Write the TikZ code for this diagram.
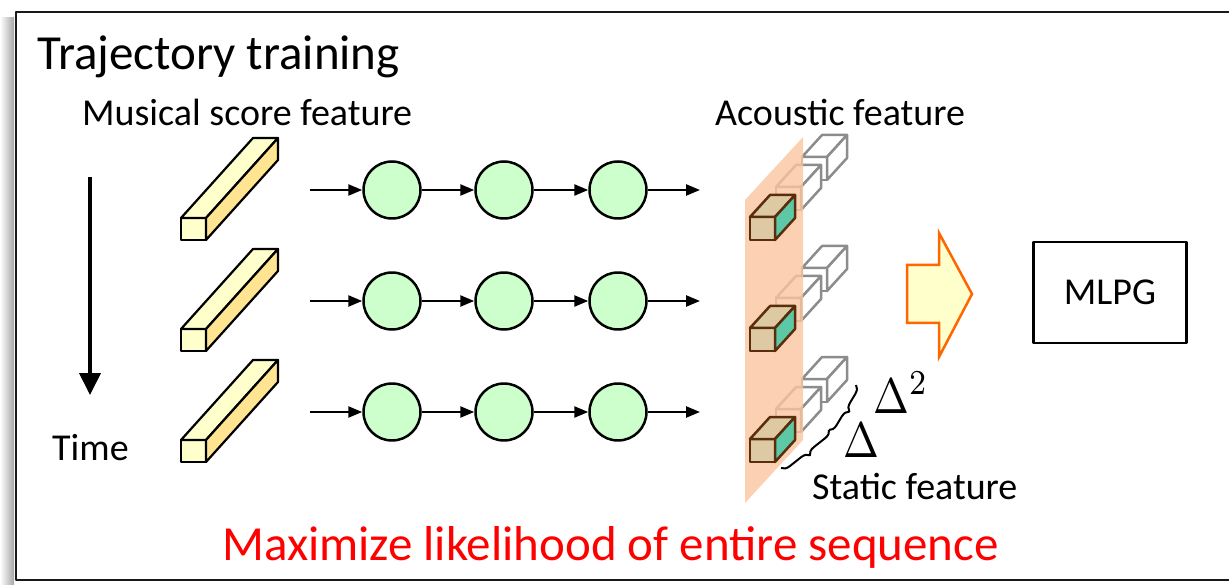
\documentclass[tikz,border=0pt]{standalone}
\usepackage{fontspec}
\setmainfont{Carlito}
\usetikzlibrary{arrows.meta,calc,decorations.pathreplacing}

\definecolor{barfront}{HTML}{FFFFCC}
\definecolor{barside}{HTML}{FFE591}
\definecolor{nodegreen}{HTML}{CCFFCC}
\definecolor{planeorange}{HTML}{FBC5A0}
\definecolor{cubetan}{HTML}{DDC9A3}
\definecolor{cubeteal}{HTML}{5CC8A6}
\definecolor{cubeedge}{HTML}{5A2D0C}
\definecolor{cubegray}{HTML}{8C8C8C}
\definecolor{arroworange}{HTML}{FF6600}

% one feature box: origin, edge, front, top, side
\newcommand{\featbox}[5]{%
  \begin{scope}[shift={#1}]
    \filldraw[draw=#2,fill=#3] (0,0) rectangle (25,23);
    \filldraw[draw=#2,fill=#4] (0,0) -- (20,-22) -- (45,-22) -- (25,0) -- cycle;
    \filldraw[draw=#2,fill=#5] (25,0) -- (45,-22) -- (45,1) -- (25,23) -- cycle;
  \end{scope}}

\begin{document}
\begin{tikzpicture}[x=1pt,y=-1pt,line join=round,
  unit/.style={circle,draw,line width=2.5pt,fill=nodegreen,minimum size=57pt,inner sep=0pt},
  flow/.style={line width=2.5pt,-{Triangle[length=14pt,width=11pt]}},
  lbl/.style={anchor=base west,inner sep=0pt,font=\fontsize{38}{44}\selectfont},
  big/.style={anchor=base west,inner sep=0pt,font=\fontsize{49}{58}\selectfont},
  curly/.style={line width=2pt,decorate,decoration={brace,amplitude=8pt,mirror}}]
\useasboundingbox (0,0) rectangle (1229,585);

% frame and its shadow
\shade[left color=white,right color=black!35] (0,18) rectangle (14,585);
\draw[line width=2.5pt,black!90] (16,12) rectangle (1240,580);

\node[big] (title) at (37,70) {Trajectory training};
\node[lbl] (score) at (82,126) {Musical score feature};
\node[lbl] (acoustic) at (715,126) {Acoustic feature};
\node[lbl] (time) at (52,460) {Time};
\node[lbl] (static) at (812,499) {Static feature};
\node[big,text=red] (goal) at (222,560) {Maximize likelihood of entire sequence};

% time axis
\coordinate (t0) at (90,177); \coordinate (t1) at (90,395);
\draw[line width=4pt,-{Triangle[length=22pt,width=21pt]}] (t0) -- (t1);

\foreach \r/\y in {1/190,2/301,3/412} {
  % score bar
  \begin{scope}[shift={(181,\y+28)},line width=2.2pt]
    \filldraw[fill=barfront] (0,0) rectangle (25,22);
    \filldraw[fill=barfront] (0,0) -- (72,-80) -- (97,-80) -- (25,0) -- cycle;
    \filldraw[fill=barside] (25,0) -- (97,-80) -- (97,-58) -- (25,22) -- cycle;
  \end{scope}
  % chain of units
  \coordinate (in\r) at (310,\y); \coordinate (out\r) at (700,\y);
  \node[unit] (n\r-1) at (392,\y) {};
  \node[unit] (n\r-2) at (504,\y) {};
  \node[unit] (n\r-3) at (618,\y) {};
  \draw[flow] (in\r) -- (n\r-1);
  \draw[flow] (n\r-1) -- (n\r-2);
  \draw[flow] (n\r-2) -- (n\r-3);
  \draw[flow] (n\r-3) -- (out\r);
  % dynamic features behind
  \begin{scope}[line width=2.5pt]
    \featbox{(750+52,\y-33)}{cubegray}{white}{white}{white}
    \featbox{(750+26,\y-3)}{cubegray}{white}{white}{white}
  \end{scope}
}

% output plane
\fill[planeorange,opacity=0.8] (745,200) -- (803,137) -- (803,440) -- (745,503) -- cycle;

\foreach \y in {190,301,412}
  \begin{scope}[line width=2.5pt]
    \featbox{(750,\y+27)}{cubeedge}{cubetan}{cubetan}{cubeteal}
  \end{scope};

% braces and delta labels
\coordinate (b0) at (781,468); \coordinate (b1) at (829,430);
\coordinate (b2) at (829,430); \coordinate (b3) at (856,385);
\draw[curly] (b0) -- (b1);
\draw[curly] (b2) -- (b3);
\node[anchor=base west,inner sep=0pt] (d2) at (873,413) {\scalebox{4.3}[5]{$\Delta^2$}};
\node[anchor=base west,inner sep=0pt] (d1) at (843,457) {\scalebox{4.3}[5]{$\Delta$}};

% block arrow to MLPG
\filldraw[fill=barfront,draw=arroworange,line width=2.5pt,line join=miter]
  (907,265) -- (939,265) -- (939,233) -- (972,294) -- (939,357) -- (939,323) -- (907,323) -- cycle;
\node[draw,line width=2.5pt,minimum width=153pt,minimum height=101pt,
  font=\fontsize{38}{44}\selectfont] (mlpg) at (1110,292.5) {MLPG};
\end{tikzpicture}
\end{document}
